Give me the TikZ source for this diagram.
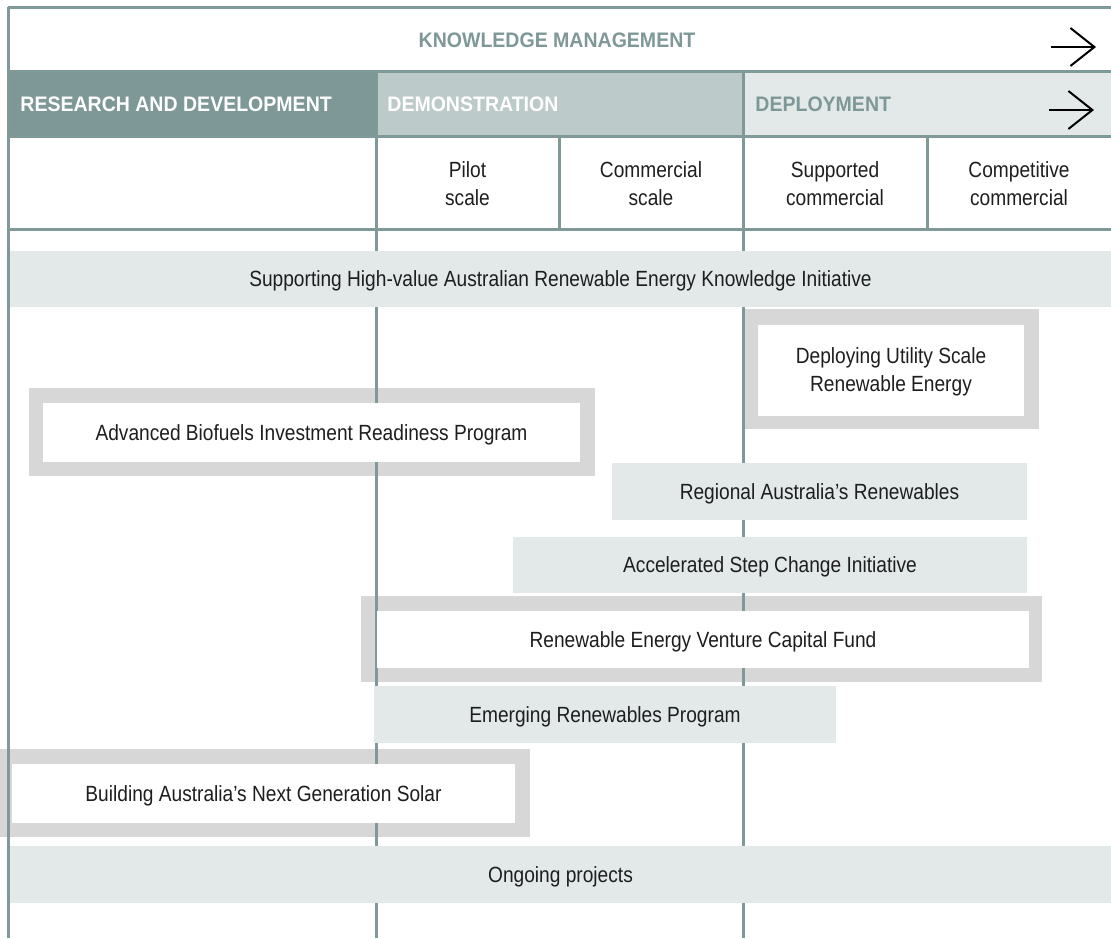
\documentclass[tikz,border=0pt]{standalone}
\usepackage{fontspec}
\setmainfont{Liberation Sans}[FakeStretch=0.87]
\newfontfamily\headfont{Liberation Sans}[FakeStretch=0.93]
\usetikzlibrary{arrows.meta}
\definecolor{rulecol}{HTML}{7F9999}
\definecolor{rdfill}{HTML}{7E9797}
\definecolor{demofill}{HTML}{BDCACA}
\definecolor{bandfill}{HTML}{E3E9E9}
\definecolor{framegray}{HTML}{D7D7D7}
\definecolor{ink}{HTML}{1E1E1E}
\begin{document}
% one unit = one pixel, y running downwards
\begin{tikzpicture}[x=0.5pt,y=-0.5pt,
  body/.style={font=\fontsize{11pt}{14pt}\selectfont, text=ink},
  heading/.style={font=\fontsize{10.5pt}{14pt}\selectfont\headfont\bfseries,
    text height=7.5pt, text depth=0pt, inner sep=0pt},
  gridline/.style={draw=rulecol, line width=1.5pt},
  tile/.style={inner sep=0pt, outer sep=0pt},
  oneline/.style={text height=7.9pt, text depth=0pt},
  band/.style={fill=bandfill, inner sep=0pt, outer sep=0pt, body, oneline},
  ring/.style={fill=framegray, inner sep=0pt, outer sep=0pt},
  card/.style={fill=white, inner sep=0pt, outer sep=0pt, body, align=center, text depth=0pt},
  cell/.style={inner sep=0pt, body, align=center, text depth=0pt},
  flow/.style={draw=black, line width=1pt, -{Straight Barb[length=12pt,width=19pt]}},
]
\useasboundingbox (0,0) rectangle (1111,938);

% stage header fills
\node[tile, fill=rdfill, minimum width=184pt, minimum height=32.5pt] (rdtile) at (192,103.5) {};
\node[tile, fill=demofill, minimum width=183.5pt, minimum height=32.5pt] (demotile) at (559.5,103.5) {};
\node[tile, fill=bandfill, minimum width=184pt, minimum height=32.5pt] (deptile) at (927,103.5) {};

% grey frames of the highlighted programs (the rules show through them)
\node[ring, minimum width=147pt, minimum height=60pt] (dusrering) at (892,369) {};
\node[ring, minimum width=283pt, minimum height=44pt] (abirpring) at (312,432) {};
\node[ring, minimum width=340.5pt, minimum height=43pt] (recfring) at (701.5,639) {};
\node[ring, minimum width=265pt, minimum height=44pt] (bangsring) at (265,793) {};

% table rules
\coordinate (h0l) at (8,7);    \coordinate (h0r) at (1111,7);
\coordinate (h1l) at (8,71);   \coordinate (h1r) at (1111,71);
\coordinate (h2l) at (8,136);  \coordinate (h2r) at (1111,136);
\coordinate (h3l) at (8,229);  \coordinate (h3r) at (1111,229);
\coordinate (v0t) at (8,7);    \coordinate (v0b) at (8,938);
\coordinate (v1t) at (376,71); \coordinate (v1b) at (376,938);
\coordinate (v2t) at (743,71); \coordinate (v2b) at (743,938);
\coordinate (v3t) at (559,136); \coordinate (v3b) at (559,229);
\coordinate (v4t) at (927,136); \coordinate (v4b) at (927,229);
\draw[gridline] (h0l) -- (h0r);
\draw[gridline] (h1l) -- (h1r);
\draw[gridline] (h2l) -- (h2r);
\draw[gridline] (h3l) -- (h3r);
\draw[gridline] (v0t) -- (v0b);
\draw[gridline] (v1t) -- (v1b);
\draw[gridline] (v2t) -- (v2b);
\draw[gridline] (v3t) -- (v3b);
\draw[gridline] (v4t) -- (v4b);

% header texts
\node[heading, text=rdfill] (km) at (557,40) {KNOWLEDGE MANAGEMENT};
\node[heading, text=white, anchor=west] (rd) at (20,104) {RESEARCH AND DEVELOPMENT};
\node[heading, text=white, anchor=west] (demo) at (387,104) {DEMONSTRATION};
\node[heading, text=rdfill, anchor=west] (dep) at (755,104) {DEPLOYMENT};

\node[cell] (pilot) at (467.5,184) {Pilot\\scale};
\node[cell] (commercial) at (651,184) {Commercial\\scale};
\node[cell] (supported) at (835,184) {Supported\\commercial};
\node[cell] (competitive) at (1019,184) {Competitive\\commercial};

% direction arrows
\coordinate (kmfrom) at (1051,47); \coordinate (kmto) at (1096,47);
\coordinate (depfrom) at (1049,110); \coordinate (depto) at (1094,110);
\draw[flow] (kmfrom) -- (kmto);
\draw[flow] (depfrom) -- (depto);

% programs
\node[band, minimum width=550.5pt, minimum height=28pt] (sharek) at (560.5,279) {Supporting High-value Australian Renewable Energy Knowledge Initiative};
\node[card, minimum width=133pt, minimum height=45.5pt] (dusre) at (891,370) {Deploying Utility Scale\\Renewable Energy};
\node[card, oneline, minimum width=268.5pt, minimum height=29.5pt] (abirp) at (311.5,432.5) {Advanced Biofuels Investment Readiness Program};
\node[band, minimum width=207.5pt, minimum height=28.5pt] (regional) at (819.5,491.5) {Regional Australia’s Renewables};
\node[band, minimum width=257pt, minimum height=28pt] (asci) at (770,565) {Accelerated Step Change Initiative};
\node[card, oneline, minimum width=326pt, minimum height=28.5pt] (recf) at (703,639.5) {Renewable Energy Venture Capital Fund};
\node[band, minimum width=231pt, minimum height=28.5pt] (erp) at (605,714.5) {Emerging Renewables Program};
\node[card, oneline, minimum width=251.5pt, minimum height=29.5pt] (bangs) at (263.5,793.5) {Building Australia’s Next Generation Solar};
\node[band, minimum width=550.5pt, minimum height=28.5pt] (ongoing) at (560.5,874.5) {Ongoing projects};
\end{tikzpicture}
\end{document}
